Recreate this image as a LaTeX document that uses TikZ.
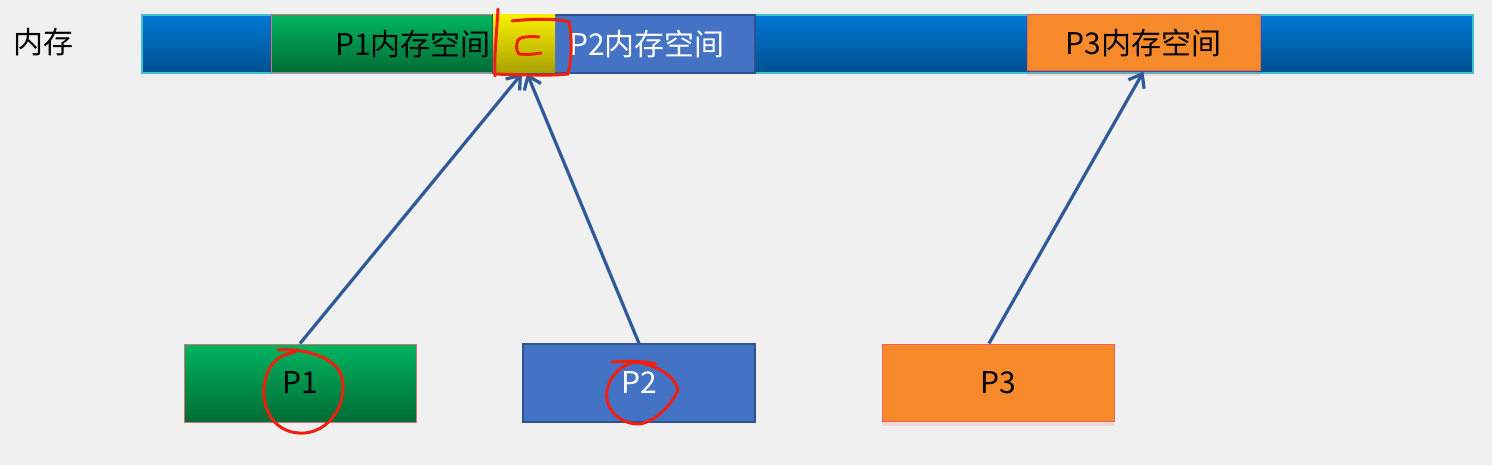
\documentclass[tikz,border=0pt]{standalone}
\usepackage{fontspec}
\setmainfont{Noto Sans CJK SC}
\usetikzlibrary{arrows.meta,shadows}
\definecolor{bg}{HTML}{F0F0F0}
\definecolor{bartop}{HTML}{0078D4}
\definecolor{barbot}{HTML}{00508F}
\definecolor{barborder}{HTML}{3FBFCF}
\definecolor{gtop}{HTML}{00B560}
\definecolor{gbot}{HTML}{006B35}
\definecolor{pborder}{HTML}{E07070}
\definecolor{pblue}{HTML}{4472C4}
\definecolor{pblueborder}{HTML}{2F528F}
\definecolor{porange}{HTML}{F68A2A}
\definecolor{oborder}{HTML}{F0605A}
\definecolor{ytop}{HTML}{FAEE00}
\definecolor{ybot}{HTML}{A8A200}
\definecolor{arrowc}{HTML}{2E5A9A}
\definecolor{ink}{HTML}{F02010}
\tikzset{
  box/.style={rectangle, inner sep=0pt, font=\fontsize{15}{18}\selectfont},
  greenbox/.style={box, top color=gtop, bottom color=gbot, draw=pborder, line width=0.5pt},
  bluebox/.style={box, fill=pblue, draw=pblueborder, line width=0.6pt, text=white},
  orangebox/.style={box, fill=porange, draw=oborder, line width=0.5pt,
    drop shadow={opacity=0.18, shadow xshift=0pt, shadow yshift=-2.5pt, fill=red!60}},
  link/.style={draw=arrowc, line width=1.6pt, -{Straight Barb[length=6pt,width=9pt,line width=1.6pt]}},
  redpen/.style={draw=ink, line width=1.5pt, line cap=round, line join=round},
}
\begin{document}
\begin{tikzpicture}[x=0.5pt,y=-0.5pt]
\fill[bg] (0,0) rectangle (1492,465);
\useasboundingbox (0,0) rectangle (1492,465);

\node[font=\fontsize{15}{18}\selectfont] (memlabel) at (43,42) {内存};

% memory bar
\node[box, top color=bartop, bottom color=barbot, draw=barborder, line width=0.6pt,
      minimum width=665.5pt, minimum height=29pt] (bar) at (807.5,44) {};

% P1 memory space
\node[greenbox, minimum width=142pt, minimum height=29pt] (p1mem) at (413,44) {P1内存空间};
% P2 memory space
\node[bluebox, minimum width=131pt, minimum height=29pt] (p2mem) at (624,44) {};
\node[box, text=white] (p2memtext) at (647,44) {P2内存空间};
% shared C block
\node[box, top color=ytop, bottom color=ybot, minimum width=31pt, minimum height=29pt] (c) at (524,44) {};
% P3 memory space
\node[orangebox, minimum width=116.5pt, minimum height=28pt] (p3mem) at (1143.5,43) {P3内存空间};

% processes
\node[greenbox, minimum width=116pt, minimum height=39pt] (p1) at (300,383) {P1};
\node[bluebox, minimum width=116pt, minimum height=39pt] (p2) at (639,383) {P2};
\node[orangebox, minimum width=116pt, minimum height=38.5pt] (p3) at (998,382.5) {P3};

% connectors
\draw[link] (p1.north) -- ([xshift=-1pt]c.south);
\draw[link] (p2.north) -- ([xshift=1.5pt]c.south);
\draw[link] ([xshift=-4.5pt]p3.north) -- (p3mem.south);

% red hand annotations
\draw[redpen] (498,9) .. controls (497,30) and (494,55) .. (495,76);
\draw[redpen] (495,74) .. controls (520,75) and (550,76) .. (568,74)
  .. controls (572,60) and (572,35) .. (569,22)
  .. controls (555,18) and (530,19) .. (512,21);
\draw[redpen] (539,37) .. controls (529,36) and (520,37) .. (518,40)
  .. controls (516,45) and (516,51) .. (519,54)
  .. controls (526,55) and (535,54) .. (541,53);
% circle around P1
\draw[redpen] (278,350) .. controls (300,348) and (330,355) .. (340,372)
  .. controls (350,395) and (335,430) .. (305,433)
  .. controls (275,435) and (262,410) .. (264,388)
  .. controls (266,365) and (278,355) .. (295,352);
% circle around P2
\draw[redpen] (612,362) .. controls (630,361) and (645,361) .. (656,364);
\draw[redpen] (636,362) .. controls (655,365) and (675,375) .. (678,390)
  .. controls (672,405) and (652,425) .. (636,424)
  .. controls (615,422) and (604,405) .. (607,390)
  .. controls (610,375) and (622,364) .. (636,362);
\end{tikzpicture}
\end{document}
